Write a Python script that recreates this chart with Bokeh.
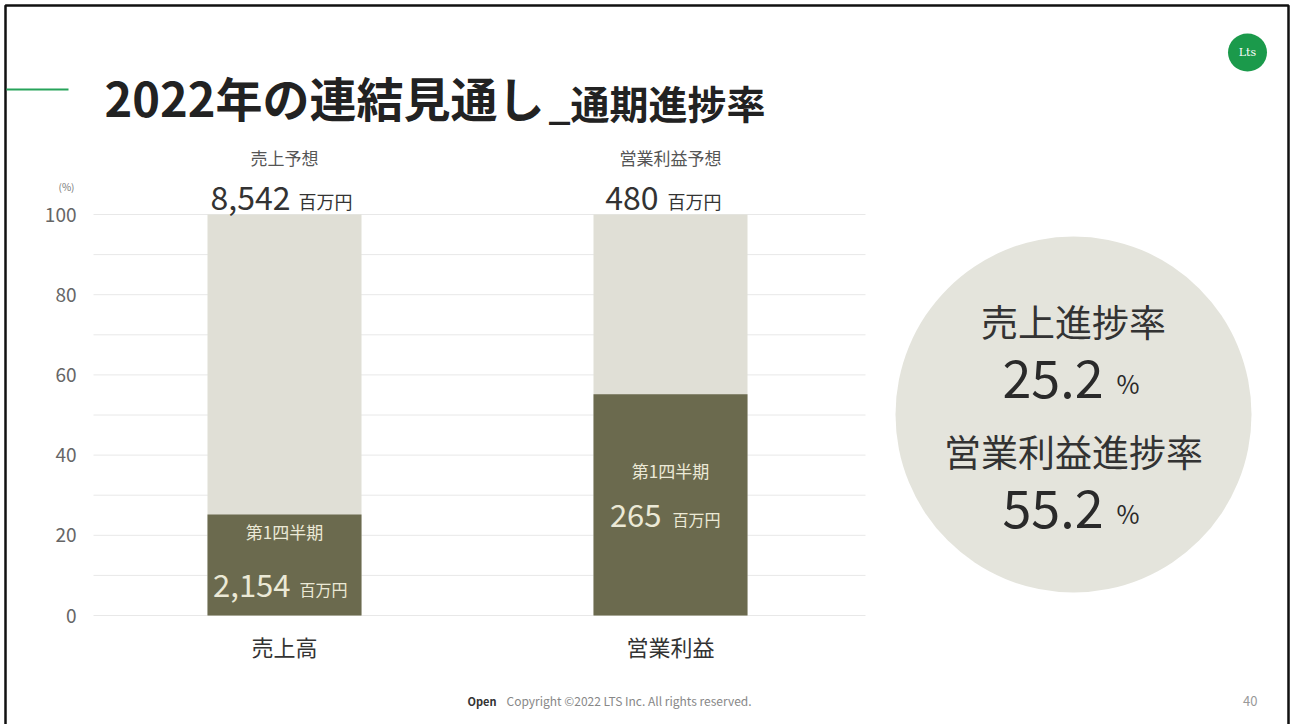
from bokeh.plotting import figure
from bokeh.models import Range1d, FixedTicker, BoxAnnotation
from bokeh.core.properties import value
from bokeh.embed import file_html
from bokeh.resources import INLINE

# ---------------- data ----------------
categories = ["売上高", "営業利益"]
progress = [25.2, 55.2]            # 第1四半期 progress (%)
full_year = [100, 100]             # full-year forecast (%)
forecast_titles = ["売上予想", "営業利益予想"]
forecast_values = ["8,542", "480"]
q1_label = "第1四半期"
q1_values = ["2,154", "265"]
unit = "百万円"
y_ticks = [0, 20, 40, 60, 80, 100]
grid_levels = [0, 10, 20, 30, 40, 50, 60, 70, 80, 90, 100]
rate_titles = ["売上進捗率", "営業利益進捗率"]
rate_values = ["25.2", "55.2"]
title_main = "2022年の連結見通し"
title_sub = "_通期進捗率"
footer_open = "Open"
footer_copy = "Copyright ©2022 LTS Inc. All rights reserved."
page_no = "40"

# ---------------- layout helpers (page pixel -> data) ----------------
W, H = 1292, 724
CHART_L, CHART_R, CHART_B = 93, 865, 615
X0, XU, YU = 284.0, 386.0, 4.01


def dx(px):
    return (px - X0) / XU


def dy(py):
    return (CHART_B - py) / YU


FONT = "Noto Sans CJK JP"
DARK = "#6b6a4e"
LIGHT = "#e0dfd6"
BARTXT = "#ebe9d6"

p = figure(width=W, height=H,
           x_range=Range1d(dx(0), dx(W)),
           y_range=Range1d(dy(H), dy(0)),
           min_border_left=0, min_border_right=0,
           min_border_top=0, min_border_bottom=0,
           output_backend="svg", toolbar_location=None, tools="")
p.outline_line_color = None
p.background_fill_color = "white"
p.border_fill_color = "white"
p.xgrid.visible = False
p.ygrid.visible = False

# grid lines (restricted to chart area)
n = len(grid_levels)
p.segment(x0=[dx(CHART_L)] * n, x1=[dx(CHART_R)] * n, y0=grid_levels, y1=grid_levels,
          line_color="#e8e8e8", line_width=1)

xs = list(range(len(categories)))
BW = 154 / XU
p.vbar(x=xs, top=full_year, width=BW, fill_color=LIGHT, line_color=None)
p.vbar(x=xs, top=progress, width=BW, fill_color=DARK, line_color=None)

# axes (drawn at fixed locations inside the slide)
ya = p.yaxis[0]
ya.fixed_location = dx(CHART_L)
ya.ticker = FixedTicker(ticks=y_ticks, minor_ticks=[])
ya.axis_line_color = None
ya.major_tick_line_color = None
ya.minor_tick_line_color = None
ya.major_label_text_font = FONT
ya.major_label_text_font_size = "19px"
ya.major_label_text_color = "#666666"
ya.major_label_standoff = 11

xa = p.xaxis[0]
xa.fixed_location = 0
xa.ticker = FixedTicker(ticks=xs, minor_ticks=[])
xa.major_label_overrides = {i: c for i, c in enumerate(categories)}
xa.axis_line_color = None
xa.major_tick_line_color = None
xa.minor_tick_line_color = None
xa.major_label_text_font = FONT
xa.major_label_text_font_size = "22px"
xa.major_label_text_color = "#333333"
xa.major_label_standoff = 8


def txt(x, y, t, size, color, align="center", bold=False, font=FONT):
    p.text(x=x, y=y, text=t, text_font=value(font), text_font_size=value(size),
           text_color=color, text_align=align, text_baseline="middle",
           text_font_style="bold" if bold else "normal")


# slide border and accent line
p.add_layout(BoxAnnotation(left=dx(5), right=dx(1288), top=dy(5), bottom=dy(760),
                           fill_alpha=0, fill_color=None, line_color="#111111",
                           line_alpha=1, line_width=2.5))
p.add_layout(BoxAnnotation(left=dx(6), right=dx(68), bottom=dy(90), top=dy(88),
                           fill_color="#27a35a", fill_alpha=1, line_color=None))

# forecast labels above bars
txt(xs, [dy(157)] * 2, forecast_titles, "17px", "#555555")
num_off = [6 / XU, -12 / XU]
unit_off = [14 / XU, -3 / XU]
txt([x + o for x, o in zip(xs, num_off)], [dy(197)] * 2, forecast_values, "32px", "#333333", "right")
txt([x + o for x, o in zip(xs, unit_off)], [dy(200)] * 2, [unit] * 2, "18px", "#333333", "left")

# labels inside dark bars
q1_title_y = [dy(531), dy(470)]
q1_num_y = [dy(585), dy(515)]
txt(xs, q1_title_y, [q1_label] * 2, "17px", BARTXT)
q_num_off = [6 / XU, -9 / XU]
q_unit_off = [15 / XU, 2 / XU]
txt([x + o for x, o in zip(xs, q_num_off)], q1_num_y, q1_values, "31px", BARTXT, "right")
txt([x + o for x, o in zip(xs, q_unit_off)], [y - 3 / YU for y in q1_num_y], [unit] * 2, "16px", BARTXT, "left")

# title
txt([dx(104)], [dy(96)], [title_main], "47px", "#222222", "left", bold=True)
txt([dx(548)], [dy(101)], [title_sub], "39px", "#222222", "left", bold=True)

# logo
p.ellipse(x=[dx(1247)], y=[dy(52)], width=39, height=38, width_units="screen",
          height_units="screen", fill_color="#1b9a4b", line_color=None)
txt([dx(1247)], [dy(52)], ["Lts"], "11px", "white", font="DejaVu Serif")

# circle with progress rates
p.circle(x=[dx(1073)], y=[dy(414)], radius=178, radius_units="screen",
         fill_color="#e4e4dc", line_color=None)
txt([dx(1073)] * 2, [dy(320), dy(450)], rate_titles, "37px", "#333333")
txt([dx(1103)] * 2, [dy(378), dy(508)], rate_values, "52px", "#2a2a2a", "right")
txt([dx(1116)] * 2, [dy(382), dy(512)], ["%"] * 2, "25px", "#2a2a2a", "left")

# small texts around the chart
txt([dx(66)], [dy(186)], ["(%)"], "10px", "#777777")
txt([dx(467)], [dy(700)], [footer_open], "11px", "#333333", "left", bold=True)
txt([dx(506)], [dy(700)], [footer_copy], "12px", "#888888", "left")
txt([dx(1257)], [dy(700)], [page_no], "13px", "#999999", "right")

open("out.html", "w").write(file_html(p, INLINE))
